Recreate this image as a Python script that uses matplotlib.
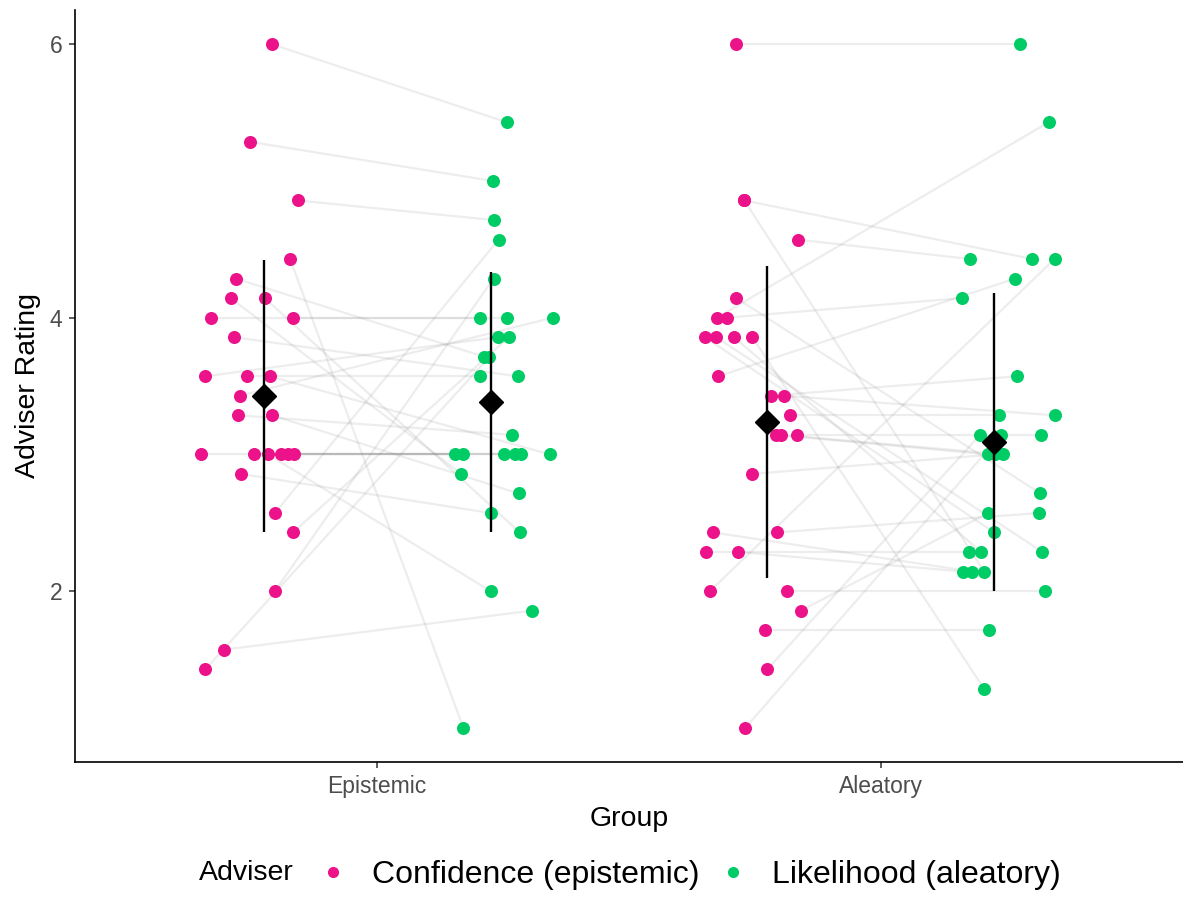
import numpy as np
import matplotlib.pyplot as plt
from matplotlib.lines import Line2D

plt.rcParams['font.family'] = ['Liberation Sans', 'DejaVu Sans']

groups = ['Epistemic', 'Aleatory']
advisers = ['Confidence (epistemic)', 'Likelihood (aleatory)']
colours = ['#EC1289', '#00CC66']

# one entry per participant: rating of the confidence adviser and of the likelihood adviser
epi_conf = [6.0, 5.286, 4.857, 4.429, 4.286, 4.143, 4.143, 4.0, 4.0, 3.857,
            3.571, 3.571, 3.571, 3.429, 3.286, 3.286, 3.0, 3.0, 3.0, 3.0,
            3.0, 3.0, 2.857, 2.571, 2.429, 2.0, 1.571, 1.429]
epi_lik = [5.429, 5.0, 4.714, 1.0, 3.714, 2.857, 2.429, 4.0, 4.0, 3.571,
           3.857, 3.571, 3.0, 4.0, 3.143, 2.714, 3.0, 3.0, 2.0, 3.0,
           3.0, 3.0, 2.571, 4.571, 3.857, 4.286, 1.857, 3.714]
# horizontal jitter as seen in the plot
epi_conf_jit = [0.016, -0.028, 0.068, 0.052, -0.056, -0.066, 0.002, -0.104, 0.058, -0.060,
                -0.116, -0.034, 0.012, -0.048, -0.052, 0.016, -0.124, -0.020, 0.008, 0.034,
                0.060, 0.048, -0.046, 0.022, 0.058, 0.022, -0.080, -0.116]
epi_lik_jit = [0.032, 0.004, 0.006, -0.054, -0.012, -0.058, 0.058, -0.020, 0.032, 0.054,
               0.014, -0.020, 0.118, 0.124, 0.042, 0.056, -0.070, -0.054, 0.0, 0.026,
               0.048, 0.060, 0.0, 0.016, 0.036, 0.006, 0.082, -0.002]

ale_conf = [6.0, 4.857, 4.857, 4.571, 4.143, 4.0, 4.0, 3.857, 3.857, 3.857,
            3.857, 3.571, 3.429, 3.429, 3.286, 3.143, 3.143, 3.143, 2.857, 2.429,
            2.429, 2.286, 2.286, 2.0, 2.0, 1.857, 1.714, 1.429, 1.0]
ale_lik = [6.0, 4.429, 2.143, 4.429, 2.714, 5.429, 4.143, 2.429, 2.286, 2.286,
           1.286, 4.286, 3.571, 3.286, 3.286, 3.0, 3.0, 3.143, 3.0, 2.143,
           2.571, 2.286, 2.143, 4.429, 2.0, 2.571, 1.714, 3.143, 3.143]
ale_conf_jit = [-0.062, -0.046, -0.046, 0.060, -0.062, -0.100, -0.080, -0.124, -0.102, -0.066,
                -0.030, -0.098, 0.006, 0.032, 0.044, 0.016, 0.026, 0.058, -0.030, -0.108,
                0.018, -0.122, -0.058, -0.114, 0.038, 0.066, -0.004, 0.0, -0.044]
ale_lik_jit = [0.052, 0.076, -0.020, -0.048, 0.092, 0.108, -0.064, 0.0, 0.096, -0.026,
               -0.020, 0.042, 0.046, 0.120, 0.010, -0.012, 0.018, 0.094, 0.002, -0.044,
               0.090, -0.050, -0.062, 0.120, 0.100, -0.012, -0.010, -0.028, 0.014]

# summary (mean +/- sd)
conf_mean = [3.43, 3.235]
conf_sd = [0.995, 1.14]
lik_mean = [3.385, 3.09]
lik_sd = [0.95, 1.09]

dodge = 0.225

fig = plt.figure(figsize=(11.83, 9.18), dpi=100)
ax = fig.add_axes([75/1183, 1-762/918, 1-75/1183, 752/918])

data = [(epi_conf, epi_lik, epi_conf_jit, epi_lik_jit),
        (ale_conf, ale_lik, ale_conf_jit, ale_lik_jit)]

for gi, (conf, lik, cj, lj) in enumerate(data):
    xc = gi + 1 - dodge + np.array(cj)
    xl = gi + 1 + dodge + np.array(lj)
    for a, b, c, d in zip(xc, conf, xl, lik):
        ax.plot([a, c], [b, d], color='grey', alpha=0.14, lw=1.6, zorder=1,
                solid_capstyle='butt')
    ax.scatter(xc, conf, s=88, color=colours[0], linewidths=0, zorder=2)
    ax.scatter(xl, lik, s=88, color=colours[1], linewidths=0, zorder=2)

xpos = np.arange(1, len(groups) + 1)
ax.errorbar(xpos - dodge, conf_mean, yerr=conf_sd, fmt='D', color='black',
            ms=12, elinewidth=1.7, capsize=0, zorder=3)
ax.errorbar(xpos + dodge, lik_mean, yerr=lik_sd, fmt='D', color='black',
            ms=12, elinewidth=1.7, capsize=0, zorder=3)

ax.set_xlim(0.4, 2.6)
ax.set_ylim(0.75, 6.25)
ax.set_xticks(xpos)
ax.set_xticklabels(groups)
ax.set_yticks([2, 4, 6])
for s in ['top', 'right']:
    ax.spines[s].set_visible(False)
for s in ['left', 'bottom']:
    ax.spines[s].set_linewidth(1.2)
ax.tick_params(length=4, width=1.1, color='#333333', labelcolor='#4d4d4d',
               labelsize=16.5, pad=5)
ax.set_xlabel('Group', fontsize=20.5, labelpad=6)
ax.set_ylabel('Adviser Rating', fontsize=20.5, labelpad=6)

handles = [Line2D([], [], marker='o', ls='', color=c, ms=7) for c in colours]
fig.text(199/1183, 1-873/918, 'Adviser', fontsize=20.5, va='center', ha='left')
fig.legend(handles, advisers, loc='center left', bbox_to_anchor=(298/1183, 1-875/918),
           ncol=2, frameon=False, fontsize=23, handletextpad=0.62, columnspacing=0.45,
           handlelength=1.2, borderpad=0)

fig.savefig('out.png', dpi=100)
